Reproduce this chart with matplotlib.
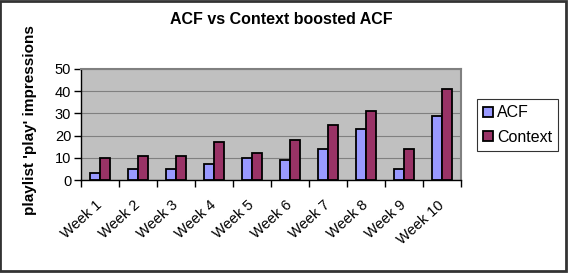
import matplotlib
matplotlib.use("Agg")
import matplotlib.pyplot as plt
import matplotlib.transforms as mtransforms
import numpy as np
from matplotlib.patches import Rectangle

categories = ["Week 1", "Week 2", "Week 3", "Week 4", "Week 5",
              "Week 6", "Week 7", "Week 8", "Week 9", "Week 10"]
acf = [3, 5, 5, 7, 10, 9, 14, 23, 5, 29]
context = [10, 11, 11, 17, 12, 18, 25, 31, 14, 41]
yticks = [0, 10, 20, 30, 40, 50]

plt.rcParams['font.family'] = ['Liberation Sans', 'DejaVu Sans']

W, H = 572, 276
fig = plt.figure(figsize=(W / 100, H / 100), dpi=100)

def fx(px):
    return px / W

def fy(py):
    return 1 - py / H

left, right, top, bottom = 81, 461, 69, 180
ax = fig.add_axes([fx(left), fy(bottom), fx(right - left), fy(top) - fy(bottom)])
ax.set_facecolor('#C0C0C0')

x = np.arange(len(categories))
bw = 0.27
ax.bar(x - bw / 2, acf, bw, color='#9999FF', edgecolor='black', linewidth=1.3,
       label='ACF', zorder=3)
ax.bar(x + bw / 2, context, bw, color='#993366', edgecolor='black', linewidth=1.3,
       label='Context', zorder=3)

ax.set_xlim(-0.5, len(categories) - 0.5)
ax.set_ylim(0, 50)
ax.set_yticks(yticks)
ax.set_yticklabels([str(v) for v in yticks], fontsize=10.5)
ax.yaxis.grid(True, color='#808080', linewidth=0.8, zorder=0)
ax.set_axisbelow(True)

ax.set_xticks(np.arange(len(categories) + 1) - 0.5, minor=False)
ax.set_xticklabels([])
ax.set_xticks(x, minor=True)
ax.set_xticklabels(categories, minor=True, rotation=42, ha='right',
                   rotation_mode='anchor', fontsize=10.5)
ax.tick_params(axis='x', which='minor', length=0, pad=13)
ax.tick_params(axis='x', which='major', length=5, width=1, color='black', direction='out')
ax.tick_params(axis='y', length=5, width=1, color='black', direction='out', pad=2)
offset = mtransforms.ScaledTranslation(-5 / 100, 0, fig.dpi_scale_trans)
for lbl in ax.get_xticklabels(minor=True):
    lbl.set_transform(lbl.get_transform() + offset)

for s in ['top', 'right']:
    ax.spines[s].set_color('#808080')
    ax.spines[s].set_linewidth(1.5)
for s in ['left', 'bottom']:
    ax.spines[s].set_color('black')
    ax.spines[s].set_linewidth(1.0)

ax.set_ylabel("playlist 'play' impressions", fontsize=11, fontweight='bold')
ax.yaxis.set_label_coords((37 - left) / (right - left), 0.54)

fig.text(fx(281), fy(20), "ACF vs Context boosted ACF", ha='center', va='center',
         fontsize=11.5, fontweight='bold')

leg = fig.legend(loc='upper left', bbox_to_anchor=(fx(477), fy(99)), fontsize=11.5,
                 frameon=True, fancybox=False, edgecolor='black', handlelength=0.6,
                 handleheight=0.6, handletextpad=0.25, borderpad=0.4, labelspacing=0.6,
                 borderaxespad=0)
leg.get_frame().set_linewidth(0.8)
for h in leg.legend_handles:
    h.set_linewidth(1.3)

fig.patches.append(Rectangle((0, fy(271)), fx(565.5), fy(1) - fy(271), transform=fig.transFigure,
                             fill=False, edgecolor='#333333', linewidth=2))

fig.savefig('out.png', dpi=100)
